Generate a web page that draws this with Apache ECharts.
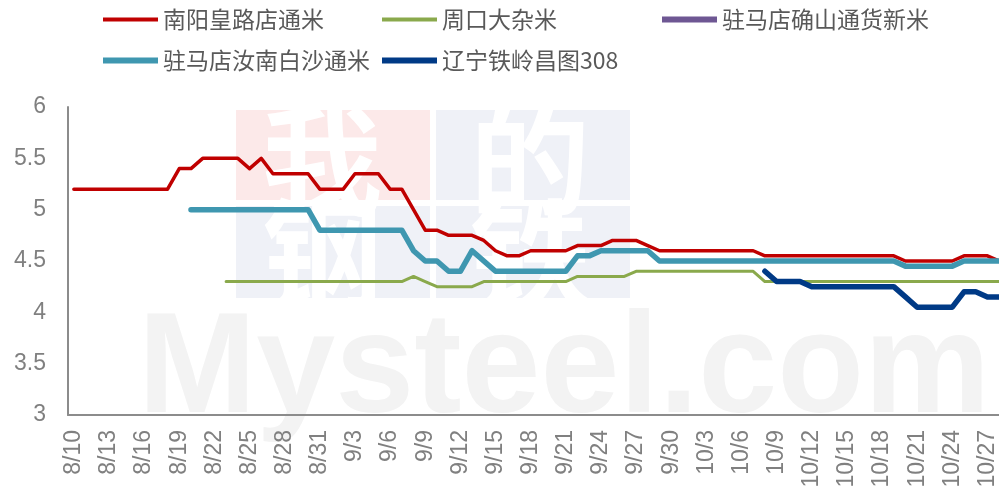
<!DOCTYPE html>
<html>
<head>
<meta charset="utf-8">
<script src="https://cdn.jsdelivr.net/npm/echarts@6/dist/echarts.min.js"></script>
<style>
html,body{margin:0;padding:0;background:#fff;}
#chart{width:999px;height:497px;}
</style>
</head>
<body>
<div id="chart"></div>
<script>
var categories = ['8/10','8/11','8/12','8/13','8/14','8/15','8/16','8/17','8/18','8/19','8/20','8/21','8/22','8/23','8/24','8/25','8/26','8/27','8/28','8/29','8/30','8/31',
'9/1','9/2','9/3','9/4','9/5','9/6','9/7','9/8','9/9','9/10','9/11','9/12','9/13','9/14','9/15','9/16','9/17','9/18','9/19','9/20','9/21','9/22','9/23','9/24','9/25','9/26','9/27','9/28','9/29','9/30',
'10/1','10/2','10/3','10/4','10/5','10/6','10/7','10/8','10/9','10/10','10/11','10/12','10/13','10/14','10/15','10/16','10/17','10/18','10/19','10/20','10/21','10/22','10/23','10/24','10/25','10/26','10/27','10/28'];

var seriesNames = ['南阳皇路店通米','周口大杂米','驻马店确山通货新米','驻马店汝南白沙通米','辽宁铁岭昌图308'];

var nanyang = [5.2,5.2,5.2,5.2,5.2,5.2,5.2,5.2,5.2,5.4,5.4,5.5,5.5,5.5,5.5,5.4,5.5,5.35,5.35,5.35,5.35,5.2,
5.2,5.2,5.35,5.35,5.35,5.2,5.2,5.0,4.8,4.8,4.75,4.75,4.75,4.7,4.6,4.55,4.55,4.6,4.6,4.6,4.6,4.65,4.65,4.65,4.7,4.7,4.7,4.65,4.6,4.6,
4.6,4.6,4.6,4.6,4.6,4.6,4.6,4.55,4.55,4.55,4.55,4.55,4.55,4.55,4.55,4.55,4.55,4.55,4.55,4.5,4.5,4.5,4.5,4.5,4.55,4.55,4.55,4.5];

var zhoukou = [null,null,null,null,null,null,null,null,null,null,null,null,null,4.3,4.3,4.3,4.3,4.3,4.3,4.3,4.3,4.3,
4.3,4.3,4.3,4.3,4.3,4.3,4.3,4.35,4.3,4.25,4.25,4.25,4.25,4.3,4.3,4.3,4.3,4.3,4.3,4.3,4.3,4.35,4.35,4.35,4.35,4.35,4.4,4.4,4.4,4.4,
4.4,4.4,4.4,4.4,4.4,4.4,4.4,4.3,4.3,4.3,4.3,4.3,4.3,4.3,4.3,4.3,4.3,4.3,4.3,4.3,4.3,4.3,4.3,4.3,4.3,4.3,4.3,4.3];

var queshan = [];

var runan = [null,null,null,null,null,null,null,null,null,null,5.0,5.0,5.0,5.0,5.0,5.0,5.0,5.0,5.0,5.0,5.0,4.8,
4.8,4.8,4.8,4.8,4.8,4.8,4.8,4.6,4.5,4.5,4.4,4.4,4.6,4.5,4.4,4.4,4.4,4.4,4.4,4.4,4.4,4.55,4.55,4.6,4.6,4.6,4.6,4.6,4.5,4.5,
4.5,4.5,4.5,4.5,4.5,4.5,4.5,4.5,4.5,4.5,4.5,4.5,4.5,4.5,4.5,4.5,4.5,4.5,4.5,4.45,4.45,4.45,4.45,4.45,4.5,4.5,4.5,4.5];

var tieling = [null,null,null,null,null,null,null,null,null,null,null,null,null,null,null,null,null,null,null,null,null,null,
null,null,null,null,null,null,null,null,null,null,null,null,null,null,null,null,null,null,null,null,null,null,null,null,null,null,null,null,null,null,
null,null,null,null,null,null,null,4.4,4.3,4.3,4.3,4.25,4.25,4.25,4.25,4.25,4.25,4.25,4.25,4.15,4.05,4.05,4.05,4.05,4.2,4.2,4.15,4.15];

var yTicks = {min: 3, max: 6, interval: 0.5};

var colors = ['#C00000','#8AA94C','#6E5793','#3F97B0','#003A86'];
var widths = [3.5,3,5,5.5,5.5];
var dataSets = [nanyang, zhoukou, queshan, runan, tieling];

var chart = echarts.init(document.getElementById('chart'), null, {renderer:'canvas'});

var legendPos = [[103,8],[382,8],[662,8],[103,49],[382,49]];
var legends = seriesNames.map(function(n,i){
  return {
    data:[n], left: legendPos[i][0], top: legendPos[i][1], padding:0,
    icon:'rect', itemWidth:55, itemHeight:(i===0||i===1)?4:6,
    textStyle:{fontFamily:'"Noto Sans CJK SC"', fontSize:23, color:'#595959'},
    selectedMode:false
  };
});

var series = seriesNames.map(function(n,i){
  return {
    name:n, type:'line', data:dataSets[i], symbol:'none', showSymbol:false,
    smooth:false, animation:false, z: 2+i,
    itemStyle:{color:colors[i]},
    lineStyle:{color:colors[i], width:widths[i], cap:'round', join:'round'}
  };
});

var wmGrey = '#f3f3f3';
var option = {
  animation:false,
  backgroundColor:'#ffffff',
  legend: legends,
  graphic:[
    {type:'rect', z:-10, shape:{x:236,y:110,width:194,height:90}, style:{fill:'#fce9e9'}, silent:true},
    {type:'rect', z:-10, shape:{x:436,y:110,width:194,height:90}, style:{fill:'#eff1f7'}, silent:true},
    {type:'rect', z:-10, shape:{x:236,y:206,width:194,height:92}, style:{fill:'#eff1f7'}, silent:true},
    {type:'rect', z:-10, shape:{x:436,y:206,width:194,height:92}, style:{fill:'#eff1f7'}, silent:true},
    {type:'text', z:-9, left:262, top:100, silent:true, style:{text:'我', fontSize:120, fontFamily:'"Noto Sans CJK SC"', fontWeight:'bold', fill:'#ffffff'}},
    {type:'text', z:-9, left:470, top:100, silent:true, style:{text:'的', fontSize:120, fontFamily:'"Noto Sans CJK SC"', fontWeight:'bold', fill:'#ffffff'}},
    {type:'text', z:-9, left:262, top:194, silent:true, style:{text:'钢', fontSize:120, fontFamily:'"Noto Sans CJK SC"', fontWeight:'bold', fill:'#ffffff'}},
    {type:'text', z:-9, left:470, top:194, silent:true, style:{text:'铁', fontSize:120, fontFamily:'"Noto Sans CJK SC"', fontWeight:'bold', fill:'#ffffff'}},
    {type:'text', z:-9, left:138, top:302, silent:true, style:{text:'Mysteel.com', fontSize:142, fontFamily:'"Liberation Sans"', fontWeight:'bold', fill:wmGrey}}
  ],
  grid:{left:68, top:107, right:-6, bottom:82, containLabel:false, outerBoundsMode:'none'},
  xAxis:{
    type:'category', data:categories, boundaryGap:true,
    axisLine:{show:true, lineStyle:{color:'#8c8c8c', width:2}},
    axisTick:{show:false},
    axisLabel:{interval:2, rotate:90, margin:15, color:'#808080', fontSize:23, fontFamily:'"Liberation Sans"'},
    splitLine:{show:false}
  },
  yAxis:{
    type:'value', min:yTicks.min, max:yTicks.max, interval:yTicks.interval,
    axisLine:{show:true, lineStyle:{color:'#8c8c8c', width:2}},
    axisTick:{show:false},
    axisLabel:{margin:22, color:'#808080', fontSize:23, fontFamily:'"Liberation Sans"'},
    splitLine:{show:false}
  },
  series: series
};
chart.setOption(option);
</script>
</body>
</html>
